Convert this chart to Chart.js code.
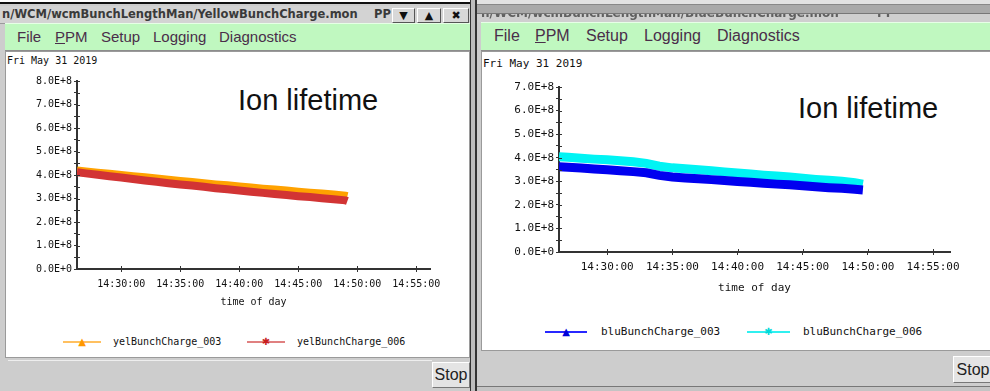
<!DOCTYPE html>
<html>
<head>
<meta charset="utf-8">
<script src="https://cdn.jsdelivr.net/npm/chart.js@4.4.1/dist/chart.umd.min.js"></script>
<style>
html, body { margin:0; padding:0; }
body {
    width:990px; height:391px; position:relative; overflow:hidden;
    background:#cdcdcd; font-family:'Liberation Sans', Arial, sans-serif;
}
.abs   { position:absolute; }
.mono  { font-family:'DejaVu Sans Mono', monospace; color:#111; white-space:nowrap; }
.menu  { background:#c0f8c0; border-bottom:1px solid #8c8c8c; border-top:1px solid #e6ffe6; }
.menu span { position:absolute; top:0; color:#4a2e4a; line-height:26px; }
.panel { background:#fff; border:1px solid #9a9a9a; box-sizing:border-box; }
.stop  {
    background:#e4e4e4; border:1px solid; border-color:#fff #777 #777 #fff;
    box-sizing:border-box; font-size:16px; color:#222; text-align:center;
}
.tbtn  {
    background:#d8d8d8; border:1px solid; border-color:#fff #555 #555 #fff;
    box-sizing:border-box; font:bold 11px 'DejaVu Sans'; text-align:center; line-height:13px; color:#111;
}
.ion   { font-size:29px; line-height:29px; color:#111; white-space:nowrap; }
.lgline { position:absolute; height:2px; }
</style>
</head>
<body>

<!-- ══════ window frames ══════ -->
<div class="abs" style="left:0;top:0;width:476px;height:2px;background:#fff"></div>
<div class="abs" style="left:0;top:2px;width:474px;height:2px;background:#111"></div>
<div class="abs" style="left:0;top:6px;width:470px;height:17px;background:#d3d3d3;border-bottom:1px solid #9a9a9a"></div>
<div class="abs" style="left:2px;top:6px;font:bold 11.5px 'DejaVu Sans';line-height:17px;color:#3a3a3a;white-space:nowrap">n/WCM/wcmBunchLengthMan/YellowBunchCharge.mon</div>
<div class="abs" style="left:374px;top:6px;font:bold 11.5px 'DejaVu Sans';line-height:17px;color:#3a3a3a">PP</div>
<div class="abs tbtn" style="left:392px;top:8px;width:23px;height:15px">▼</div>
<div class="abs tbtn" style="left:417px;top:8px;width:24px;height:15px">▲</div>
<div class="abs tbtn" style="left:443px;top:8px;width:26px;height:15px">✖</div>

<div class="abs" style="left:470px;top:0;width:7px;height:391px;background:#bdbdbd;border-left:1px solid #333;border-right:2px solid #333;box-sizing:border-box"></div>

<div class="abs" style="left:477px;top:0;width:513px;height:4px;background:#e2e2e2;border-bottom:1px solid #888"></div>
<div class="abs" style="left:477px;top:5px;width:513px;height:8px;background:#a9a9a9;border-bottom:1px solid #777"></div>
<div class="abs" style="left:477px;top:14px;width:513px;height:8px;background:#cfcfcf;overflow:hidden">
    <div class="abs" style="left:4px;top:-8px;font:bold 12px 'DejaVu Sans';color:#606060;white-space:nowrap;filter:blur(0.7px)">n/WCM/wcmBunchLengthMan/BlueBunchCharge.mon</div>
    <div class="abs" style="left:400px;top:-8px;font:bold 12px 'DejaVu Sans';color:#606060;filter:blur(0.7px)">PP</div>
</div>

<!-- ══════ menus ══════ -->
<div class="abs menu" style="left:5px;top:23px;width:465px;height:26px;font-size:15px">
    <span style="left:12px">File</span>
    <span style="left:50px"><u>P</u>PM</span>
    <span style="left:96px">Setup</span>
    <span style="left:148px">Logging</span>
    <span style="left:214px">Diagnostics</span>
</div>
<div class="abs menu" style="left:481px;top:22px;width:509px;height:27px;font-size:16px">
    <span style="left:13px">File</span>
    <span style="left:54px"><u>P</u>PM</span>
    <span style="left:105px">Setup</span>
    <span style="left:163px">Logging</span>
    <span style="left:236px">Diagnostics</span>
</div>

<!-- ══════ plot panels ══════ -->
<div class="abs panel" style="left:5px;top:51px;width:465px;height:307px"></div>
<div class="abs panel" style="left:481px;top:51px;width:511px;height:300px"></div>

<div class="abs" style="left:8px;top:360px;width:424px;height:1px;background:#eee"></div>
<div class="abs stop" style="left:432px;top:362px;width:38px;height:26px;line-height:24px">Stop</div>
<div class="abs stop" style="left:953px;top:356px;width:40px;height:27px;line-height:25px">Stop</div>
<div class="abs" style="left:477px;top:386px;width:513px;height:5px;background:#c4c4c4;border-top:1px solid #777"></div>

<!-- ══════ chart texts ══════ -->
<div class="abs mono" style="left:7px;top:54px;font-size:10px;line-height:14px">Fri May 31 2019</div>
<div class="abs mono" style="left:483px;top:57px;font-size:11px;line-height:14px">Fri May 31 2019</div>
<div class="abs ion" style="left:238px;top:86px">Ion lifetime</div>
<div class="abs ion" style="left:798px;top:94px">Ion lifetime</div>

<div class="abs" style="left:6px;top:64px;width:462px;height:250px"><canvas id="yelChart" width="462" height="250"></canvas></div>
<div class="abs" style="left:483px;top:70px;width:505px;height:230px"><canvas id="bluChart" width="505" height="230"></canvas></div>

<div id="yelLegend"></div>
<div id="bluLegend"></div>

<script>
// ══════════════════════════════════════════════
//  DATA  (charge per bunch)
// ══════════════════════════════════════════════
const TIME_TICKS = ['14:30:00', '14:35:00', '14:40:00', '14:45:00', '14:50:00', '14:55:00'];

const YEL_TIMES = ['14:26:15', '14:27:00', '14:28:00', '14:29:00', '14:30:00', '14:31:00', '14:32:00',
                   '14:33:00', '14:34:00', '14:35:00', '14:36:00', '14:37:00', '14:38:00', '14:39:00',
                   '14:40:00', '14:41:00', '14:42:00', '14:43:00', '14:44:00', '14:45:00', '14:46:00',
                   '14:47:00', '14:48:00', '14:49:00', '14:49:10'];
const YEL_003 = [4.19, 4.15, 4.10, 4.05, 4.00, 3.95, 3.90, 3.85, 3.80, 3.75, 3.70, 3.65, 3.60,
                 3.56, 3.51, 3.47, 3.42, 3.38, 3.34, 3.29, 3.25, 3.21, 3.17, 3.12, 3.10];
const YEL_006 = [4.12, 4.07, 4.01, 3.95, 3.89, 3.83, 3.77, 3.71, 3.65, 3.60, 3.55, 3.50, 3.44,
                 3.39, 3.34, 3.29, 3.24, 3.19, 3.15, 3.10, 3.06, 3.01, 2.97, 2.92, 2.89];

const BLU_TIMES = ['14:26:18', '14:27:00', '14:28:00', '14:29:00', '14:30:00', '14:31:00', '14:32:00',
                   '14:33:00', '14:34:00', '14:35:00', '14:36:00', '14:37:00', '14:38:00', '14:39:00',
                   '14:40:00', '14:41:00', '14:42:00', '14:43:00', '14:44:00', '14:45:00', '14:46:00',
                   '14:47:00', '14:48:00', '14:49:00', '14:49:37'];
const BLU_003 = [3.62, 3.60, 3.56, 3.52, 3.49, 3.45, 3.41, 3.36, 3.25, 3.18, 3.14, 3.11, 3.07,
                 3.03, 2.99, 2.96, 2.92, 2.88, 2.85, 2.81, 2.77, 2.73, 2.70, 2.66, 2.63];
const BLU_006 = [4.04, 4.02, 3.98, 3.94, 3.91, 3.87, 3.83, 3.76, 3.64, 3.57, 3.53, 3.49, 3.45,
                 3.40, 3.35, 3.31, 3.26, 3.22, 3.18, 3.13, 3.08, 3.04, 3.00, 2.94, 2.88];
const UNIT = 1e8;   // values above are in units of 1E+8

// ── helpers ────────────────────────────────────
const sec = s => { const [h, m, x] = s.split(':').map(Number); return h * 3600 + m * 60 + x; };
const hms = v => [Math.floor(v / 3600), Math.floor(v / 60) % 60, v % 60]
                    .map(n => String(n).padStart(2, '0')).join(':');
const sci = v => {
    if (v === 0) return '0.0E+0';
    const e = Math.floor(Math.log10(v) + 1e-9);
    return (v / Math.pow(10, e)).toFixed(1) + 'E+' + e;
};
const pts = (times, vals) => times.map((t, i) => ({ x: sec(t), y: vals[i] * UNIT }));

// tick marks poke into the plot a little, like the original
const innerTicks = {
    id: 'innerTicks',
    afterDraw(chart) {
        const { ctx, chartArea: a, scales: { x, y } } = chart;
        ctx.save();
        ctx.strokeStyle = '#333';
        ctx.lineWidth   = 1;
        ctx.beginPath();
        x.ticks.forEach(t => {
            const p = Math.round(x.getPixelForValue(t.value)) + .5;
            ctx.moveTo(p, a.bottom); ctx.lineTo(p, a.bottom - 3);
        });
        y.ticks.forEach(t => {
            const p = Math.round(y.getPixelForValue(t.value)) + .5;
            ctx.moveTo(a.left, p); ctx.lineTo(a.left + 3, p);
        });
        ctx.stroke();
        ctx.restore();
    },
};

function plotOpts({ xMin, xMax, yMax, yWidth, xHeight, fs, bottom }) {
    const font = { family: 'DejaVu Sans Mono', size: fs };
    return {
        responsive: false,
        animation:  false,
        layout: { padding: { top: 17, right: 38, bottom, left: 0 } },
        plugins: { legend: { display: false }, tooltip: { enabled: false } },
        scales: {
            x: {
                type: 'linear', min: sec(xMin), max: sec(xMax),
                afterBuildTicks: s => { s.ticks = TIME_TICKS.map(t => ({ value: sec(t) })); },
                afterFit:        s => { s.height = xHeight; },
                ticks:  { color: '#111', font, padding: 6, maxRotation: 0, autoSkip: false, callback: v => hms(v) },
                grid:   { drawOnChartArea: false, tickLength: 3, color: '#333' },
                border: { color: '#333', width: 2 },
                title:  { display: true, text: 'time of day', color: '#111', font, padding: 0 },
            },
            y: {
                min: 0, max: yMax,
                afterBuildTicks: s => {
                    const t = [];
                    for (let v = 0; v <= yMax; v += UNIT / 2) t.push({ value: v });
                    s.ticks = t;
                },
                afterFit: s => { s.width = yWidth; },
                ticks:  { color: '#111', font, padding: 2, autoSkip: false, callback: v => v % UNIT ? '' : sci(v) },
                grid:   { drawOnChartArea: false, tickLength: 3, color: '#333' },
                border: { color: '#333', width: 2 },
            },
        },
    };
}

function band(label, times, vals, color, order, w) {
    return { label, data: pts(times, vals), borderColor: color, backgroundColor: color,
             borderWidth: w, pointRadius: 0, tension: 0, order, borderCapStyle: 'butt' };
}

// ── HTML legend: line sample + marker + name ──
function legend(id, items, y, fs) {
    document.getElementById(id).innerHTML = items.map(it => `
        <div class="lgline" style="left:${it.x}px;top:${y - 1}px;width:${it.w}px;background:${it.line}"></div>
        <div class="abs" style="left:${it.x + it.w / 2 - 5}px;top:${y - 6}px;width:10px;height:12px;
             text-align:center;font:${it.mk === 'tri' ? 10 : 10}px 'DejaVu Sans';line-height:12px;color:${it.color}">
             ${it.mk === 'tri' ? '▲' : '✱'}</div>
        <div class="abs mono" style="left:${it.tx}px;top:${y - 7}px;font-size:${fs}px;line-height:14px">${it.label}</div>`
    ).join('');
}

// ══════════════════════════════════════════════
//  CHARTS
// ══════════════════════════════════════════════
new Chart(document.getElementById('yelChart'), {
    type: 'line',
    data: { datasets: [
        band('yelBunchCharge_003', YEL_TIMES, YEL_003, '#ffa200', 1, 8),
        band('yelBunchCharge_006', YEL_TIMES, YEL_006, '#d23434', 0, 8),
    ] },
    options: plotOpts({ xMin: '14:26:15', xMax: '14:56:10', yMax: 8 * UNIT, yWidth: 71, xHeight: 39, fs: 10, bottom: 6 }),
    plugins: [innerTicks],
});

new Chart(document.getElementById('bluChart'), {
    type: 'line',
    data: { datasets: [
        band('bluBunchCharge_003', BLU_TIMES, BLU_003, '#0000f0', 0, 9),
        band('bluBunchCharge_006', BLU_TIMES, BLU_006, '#00f4f4', 1, 9),
    ] },
    options: plotOpts({ xMin: '14:26:18', xMax: '14:56:18', yMax: 7 * UNIT, yWidth: 76, xHeight: 43, fs: 11, bottom: 5 }),
    plugins: [innerTicks],
});

legend('yelLegend', [
    { label: 'yelBunchCharge_003', x: 63,  w: 38, tx: 113, line: '#ffc060', color: '#ff9800', mk: 'tri' },
    { label: 'yelBunchCharge_006', x: 247, w: 38, tx: 297, line: '#e08080', color: '#c81e1e', mk: 'star' },
], 342, 10);

legend('bluLegend', [
    { label: 'bluBunchCharge_003', x: 545, w: 42, tx: 601, line: '#2828ff', color: '#0000d8', mk: 'tri' },
    { label: 'bluBunchCharge_006', x: 747, w: 43, tx: 803, line: '#30f0f0', color: '#00dada', mk: 'star' },
], 332, 11);
</script>
</body>
</html>
